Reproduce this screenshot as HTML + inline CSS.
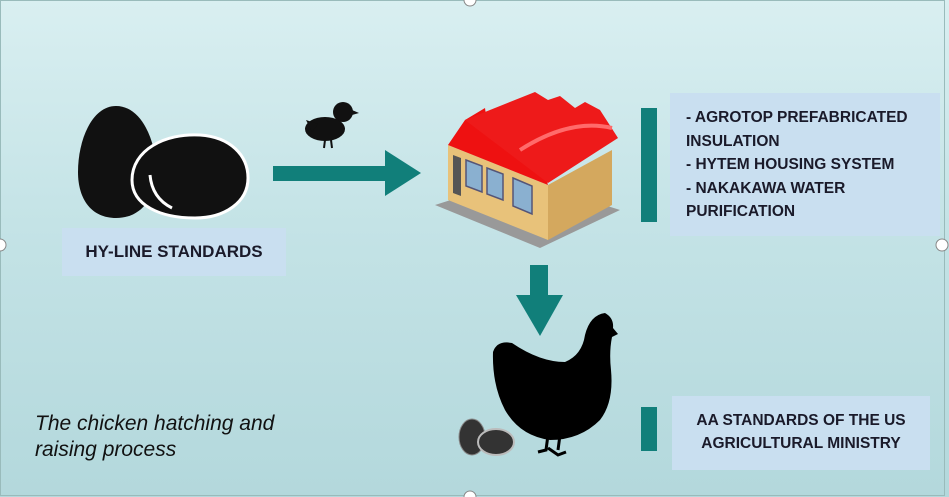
<!DOCTYPE html>
<html><head><style>
body{margin:0}
#c{position:relative;width:949px;height:497px;overflow:hidden;background:linear-gradient(180deg,#d9eff1 0%,#c4e3e6 45%,#b3d8dc 100%);font-family:"Liberation Sans",sans-serif}
.box{position:absolute;background:#c9dff0;color:#1a1a2a;font-weight:bold}
.bar{position:absolute;background:#117f7a}
</style></head><body><div id="c">
<svg width="949" height="497" style="position:absolute;left:0;top:0">
 <rect x="0.5" y="0.5" width="944" height="495" fill="none" stroke="#9bb" stroke-width="1"/>
 <!-- big eggs -->
 <path d="M116 106 C145 106 158 150 156 175 C154 200 140 218 116 218 C92 218 78 200 78 172 C78 140 92 106 116 106Z" fill="#111"/>
 <path d="M132 180 C132 150 165 133 200 135 C230 137 248 155 248 178 C248 202 225 218 195 218 C160 218 132 205 132 180Z" fill="#111" stroke="#fff" stroke-width="3"/>
 <path d="M150 175 Q152 198 172 208" fill="none" stroke="#fff" stroke-width="3"/>
 <!-- chick -->
 <ellipse cx="325" cy="129" rx="20" ry="12" fill="#111"/>
 <circle cx="343" cy="112" r="10" fill="#111"/>
 <path d="M352 110 L359 113 L352 115Z" fill="#111"/>
 <path d="M306 120 L318 124 L312 132Z" fill="#111"/>
 <path d="M325 140 L324 148 M331 140 L332 148" stroke="#111" stroke-width="2"/>
 <!-- right arrow -->
 <rect x="273" y="166" width="114" height="15" fill="#117f7a"/>
 <path d="M385 150 L421 173 L385 196Z" fill="#117f7a"/>
 <!-- factory -->
 <path d="M435 205 L540 248 L620 210 L520 178Z" fill="#999"/>
 <path d="M448 145 L548 185 L548 240 L448 200Z" fill="#e8c27a"/>
 <path d="M548 185 L612 150 L612 205 L548 240Z" fill="#d4a85e"/>
 <path d="M453 155 L461 158 L461 196 L453 193Z" fill="#555"/>
 <g fill="#8ab0d0" stroke="#557" stroke-width="1.5">
  <path d="M466 160 L482 166 L482 192 L466 186Z"/>
  <path d="M487 168 L503 174 L503 200 L487 194Z"/>
  <path d="M513 178 L532 186 L532 214 L513 206Z"/>
 </g>
 <path d="M465 120 L485 108 L488 130 L508 115 L510 135 L528 122 L548 185 L448 145Z" fill="#ee1111"/>
 <path d="M465 120 L535 92 L548 100 L560 96 L575 108 L585 102 L600 110 L618 138 L548 183Z" fill="#ee1a1a"/>
 <path d="M520 150 Q570 118 612 128" stroke="#ff6b6b" stroke-width="4" fill="none"/>
 <!-- down arrow -->
 <rect x="530" y="265" width="18" height="32" fill="#117f7a"/>
 <path d="M516 295 L563 295 L540 336Z" fill="#117f7a"/>
 <!-- hen -->
 <path d="M493 352 Q497 340 512 343 Q540 362 565 362 Q582 355 585 335 Q590 315 605 313 Q614 318 613 328 L618 334 L612 337 Q609 352 611 370 Q614 402 600 420 Q580 440 550 440 Q520 436 505 410 Q492 385 493 352Z" fill="#000"/>
 <path d="M548 435 L546 450 L538 452 M548 448 L558 455 L566 452 M560 435 L558 450" stroke="#000" stroke-width="3" fill="none"/>
 <!-- small eggs -->
 <ellipse cx="472" cy="437" rx="13" ry="18" fill="#333" stroke="#888" stroke-width="1"/>
 <ellipse cx="496" cy="442" rx="18" ry="13" fill="#333" stroke="#bbb" stroke-width="2"/>
 <!-- handles -->
 <g fill="#fff" stroke="#888"><circle cx="470" cy="0" r="6"/><circle cx="0" cy="245" r="6"/><circle cx="942" cy="245" r="6"/><circle cx="470" cy="497" r="6"/></g>
</svg>
<div class="box" style="left:62px;top:228px;width:224px;height:48px;line-height:48px;text-align:center;font-size:17px">HY-LINE STANDARDS</div>
<div class="bar" style="left:641px;top:108px;width:16px;height:114px"></div>
<div class="box" style="left:670px;top:93px;width:270px;height:143px;padding:13px 0 0 16px;box-sizing:border-box;font-size:15.5px;line-height:23.5px;white-space:nowrap">- AGROTOP PREFABRICATED<br>INSULATION<br>- HYTEM HOUSING SYSTEM<br>- NAKAKAWA WATER<br>PURIFICATION</div>
<div class="bar" style="left:641px;top:407px;width:16px;height:44px"></div>
<div class="box" style="left:672px;top:396px;width:258px;height:74px;padding-top:13px;box-sizing:border-box;text-align:center;font-size:15.5px;line-height:23px;white-space:nowrap">AA STANDARDS OF THE US<br>AGRICULTURAL MINISTRY</div>
<div style="position:absolute;left:35px;top:411px;font-style:italic;font-size:21px;line-height:26px;color:#111">The chicken hatching and<br>raising process</div>
</div></body></html>
